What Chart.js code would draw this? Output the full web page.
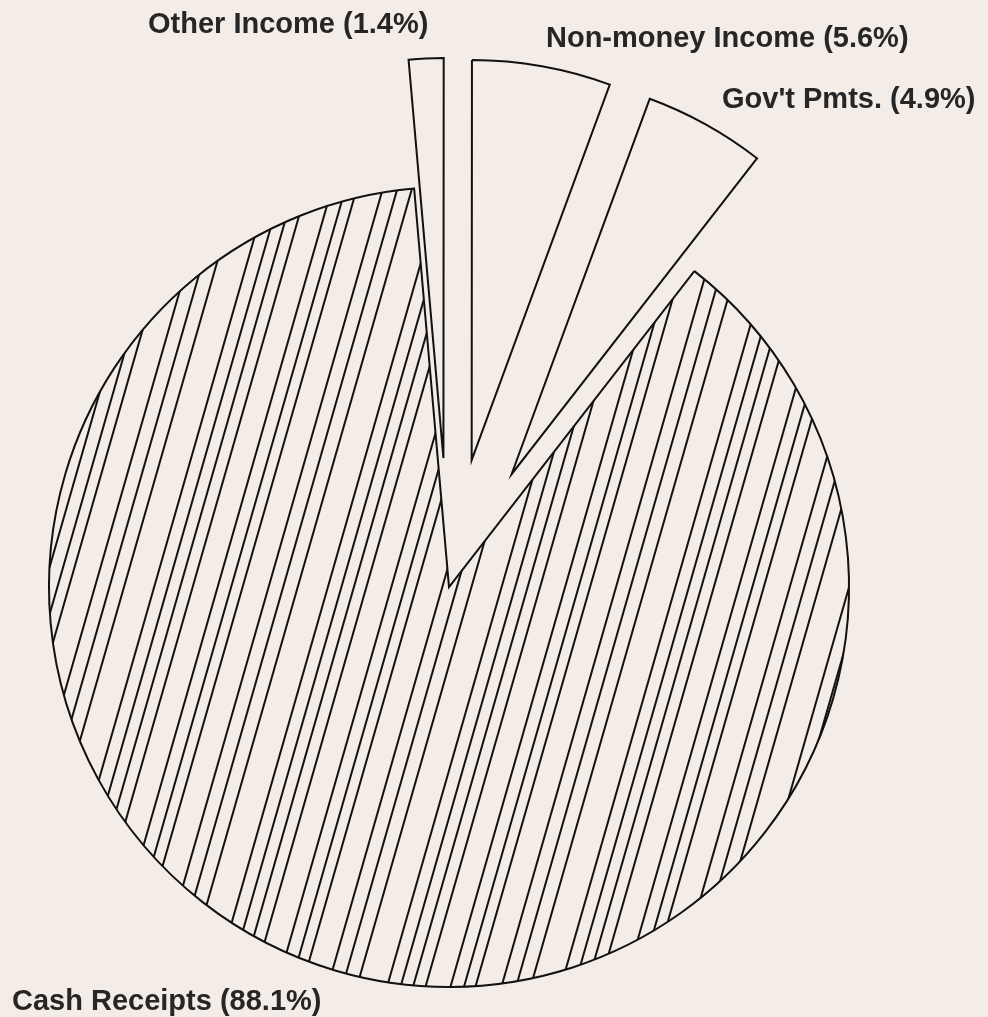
<!DOCTYPE html>
<html>
<head>
<meta charset="utf-8">
<script src="https://cdn.jsdelivr.net/npm/chart.js@4.4.1/dist/chart.umd.min.js"></script>
<style>
  html, body { margin: 0; padding: 0; background: #f4ede7; }
  #contenedor { position: relative; width: 988px; height: 1017px; overflow: hidden; }
  #contenedor canvas { position: absolute; left: 0; top: 0; }
  .etiqueta {
    position: absolute;
    font: bold 29px "Liberation Sans", Arial, sans-serif;
    line-height: 29px;
    color: #262626;
    white-space: nowrap;
  }
</style>
</head>
<body>
<div id="contenedor"></div>
<script>
const categorias = ["Other Income", "Non-money Income", "Gov't Pmts.", "Cash Receipts"];
const porcentajes = [1.4, 5.6, 4.9, 88.1];
const separados = [true, true, true, false];

// posiciones de los textos (left, top)
const posEtiquetas = [[148, 9], [546, 23], [722, 84], [12, 986]];

const RADIO = 400;
const DESPLAZAMIENTO = 129;   // cuanto se separan las porciones
const ROTACION = -5;
const CENTRO_X = 449, CENTRO_Y = 587;
const ANCHO = 988, ALTO = 1017;

const contenedor = document.getElementById("contenedor");

function crearTrama() {
    // rayado inclinado como el del plotter, con huecos irregulares
    let huecos = [13, 25, 13, 12, 26, 14, 15, 30, 13, 13];
    let total = huecos.reduce((a, b) => a + b, 0);
    let anchoTrama = Math.round(total * Math.cos(16 * Math.PI / 180));
    let escala = anchoTrama / total;

    let trama = document.createElement("canvas");
    trama.width = anchoTrama;
    trama.height = 20;
    let tctx = trama.getContext("2d");
    tctx.fillStyle = "#111111";
    let x = 0;
    for (let h of huecos) {
        tctx.fillRect(Math.round(x), 0, 2, 20);
        x = x + h * escala;
    }
    let patron = tctx.createPattern(trama, "repeat");
    patron.setTransform(new DOMMatrix().rotate(16));
    return patron;
}

function anguloMedio(indice) {
    // angulo (grados, desde arriba y en sentido horario) del centro de la porcion
    let acumulado = 0;
    for (let j = 0; j < indice; j++) acumulado += porcentajes[j];
    let total = porcentajes.reduce((a, b) => a + b, 0);
    return ROTACION + (acumulado + porcentajes[indice] / 2) / total * 360;
}

function dibujarPorcion(indice, relleno) {
    let canvas = document.createElement("canvas");
    canvas.width = ANCHO;
    canvas.height = ALTO;
    contenedor.appendChild(canvas);

    // cada porcion va en su propio grafico; las separadas se desplazan hacia fuera
    let desp = separados[indice] ? DESPLAZAMIENTO : 0;
    let ang = anguloMedio(indice) * Math.PI / 180;
    let cx = CENTRO_X + desp * Math.sin(ang);
    let cy = CENTRO_Y - desp * Math.cos(ang);
    let padding = {
        left: Math.max(0, 2 * cx - ANCHO),
        right: Math.max(0, ANCHO - 2 * cx),
        top: Math.max(0, 2 * cy - ALTO),
        bottom: Math.max(0, ALTO - 2 * cy)
    };

    let colores = porcentajes.map((p, j) => j == indice ? relleno : "rgba(0,0,0,0)");
    let bordes = porcentajes.map((p, j) => j == indice ? "#111111" : "rgba(0,0,0,0)");
    let anchos = porcentajes.map((p, j) => j == indice ? 2 : 0);

    new Chart(canvas.getContext("2d"), {
        type: 'pie',
        data: {
            labels: categorias,
            datasets: [{
                data: porcentajes,
                backgroundColor: colores,
                borderColor: bordes,
                borderWidth: anchos,
                borderJoinStyle: 'miter'
            }]
        },
        options: {
            responsive: false,
            animation: false,
            events: [],
            rotation: ROTACION,
            radius: RADIO,
            layout: { padding: padding },
            plugins: {
                legend: { display: false },
                tooltip: { enabled: false }
            }
        }
    });
}

function mostrarEtiquetas() {
    for (let i = 0; i < categorias.length; i++) {
        let div = document.createElement("div");
        div.className = "etiqueta";
        div.textContent = categorias[i] + " (" + porcentajes[i] + "%)";
        div.style.left = posEtiquetas[i][0] + "px";
        div.style.top = posEtiquetas[i][1] + "px";
        contenedor.appendChild(div);
    }
}

let trama = crearTrama();
for (let i = 0; i < categorias.length; i++) {
    dibujarPorcion(i, separados[i] ? "rgba(0,0,0,0)" : trama);
}
mostrarEtiquetas();
</script>
</body>
</html>
